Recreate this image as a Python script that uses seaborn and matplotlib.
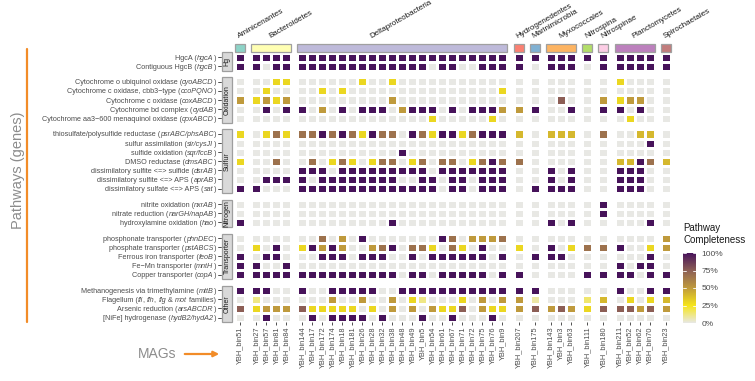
import numpy as np
import pandas as pd
import matplotlib
matplotlib.use("Agg")
import matplotlib.pyplot as plt
import seaborn as sns
from matplotlib.colors import LinearSegmentedColormap, Normalize
from matplotlib.patches import Rectangle, FancyArrowPatch
from matplotlib.lines import Line2D
from matplotlib.font_manager import FontProperties
import matplotlib.cm as cm

sns.set_theme(style="white")
plt.rcParams["font.family"] = ["Liberation Sans", "DejaVu Sans"]

# column groups (taxa) and their MAGs
taxa = ["Aminicenantes", "Bacteroidetes", "Deltaproteobacteria", "Hydrogenedentes",
        "Marinimicrobia", "Myxococcales", "Nitrospina", "Nitrospinae",
        "Planctomycetes", "Spirochaetales"]
taxa_colors = ["#8dd3c7", "#ffffb3", "#bebada", "#fb8072", "#80b1d3",
               "#fdb462", "#b3de69", "#fccde5", "#bc80bd", "#c27c7c"]
mags = [
    ["YBH_bin51"],
    ["YBH_bin27", "YBH_bin57", "YBH_bin81", "YBH_bin84"],
    ["YBH_bin144", "YBH_bin17", "YBH_bin172", "YBH_bin174", "YBH_bin18", "YBH_bin181",
     "YBH_bin26", "YBH_bin28", "YBH_bin32", "YBH_bin38", "YBH_bin48", "YBH_bin49",
     "YBH_bin5", "YBH_bin54", "YBH_bin61", "YBH_bin67", "YBH_bin71", "YBH_bin72",
     "YBH_bin75", "YBH_bin76", "YBH_bin9"],
    ["YBH_bin207"],
    ["YBH_bin175"],
    ["YBH_bin143", "YBH_bin3", "YBH_bin63"],
    ["YBH_bin111"],
    ["YBH_bin180"],
    ["YBH_bin211", "YBH_bin52", "YBH_bin62", "YBH_bin70"],
    ["YBH_bin23"],
]

# row groups (pathways); gene names between * are set in italics
pathway_groups = ["Hg", "Oxidation", "Sulfur", "Nitrogen", "Transporter", "Other"]
hg_labels = ["HgcA (*hgcA*)", "Contiguous HgcB (*hgcB*)"]
oxidation_labels = [
    "Cytochrome o ubiquinol oxidase (*cyoABCD*)",
    "Cytochrome c oxidase, cbb3−type (*ccoPQNO*)",
    "Cytochrome c oxidase (*coxABCD*)",
    "Cytochrome bd complex (*cydAB*)",
    "Cytochrome aa3−600 menaquinol oxidase (*qoxABCD*)",
]
sulfur_labels = [
    "thiosulfate/polysulfide reductase (*psrABC/phsABC*)",
    "sulfur assimilation (*sir/cysJI*)",
    "sulfide oxidation (*sqr/fccB*)",
    "DMSO reductase (*dmsABC*)",
    "dissimilatory sulfite <=> sulfide (*dsrAB*)",
    "dissimilatory sulfite <=> APS (*aprAB*)",
    "dissimilatory sulfate <=> APS (*sat*)",
]
nitrogen_labels = [
    "nitrite oxidation (*nxrAB*)",
    "nitrate reduction (*narGH/napAB*)",
    "hydroxylamine oxidation (*hao*)",
]
transporter_labels = [
    "phosphonate transporter (*phnDEC*)",
    "phosphate transporter (*pstABCS*)",
    "Ferrous iron transporter (*feoB*)",
    "Fe−Mn transporter (*mntH*)",
    "Copper transporter (*copA*)",
]
other_labels = [
    "Methanogenesis via trimethylamine (*mttB*)",
    "Flagellum (*fli*, *flh*, *flg* & *mot* families)",
    "Arsenic reduction (*arsABCDR*)",
    "[NiFe] hydrogenase (*hydB2/hydA2*)",
]

# pathway completeness (%), columns in the MAG order above
#            51 | 27  57  81  84 | Deltaproteobacteria (21)                                                          |207|175|143 3  63|111|180|211 52  62  70| 23
hg_values = [
    [100, 100, 100, 100, 100, 100, 100, 100, 100, 100, 100, 100, 100, 100, 100, 100, 100, 100, 100, 100, 100, 100, 100, 100, 100, 100, 100, 100, 100, 100, 100, 100, 100, 100, 100, 100, 100, 100],
    [100, 100, 0, 100, 100, 100, 100, 100, 100, 100, 100, 100, 100, 100, 100, 100, 100, 100, 0, 100, 100, 0, 0, 100, 100, 100, 100, 0, 100, 100, 100, 0, 100, 100, 100, 100, 100, 100],
]
oxidation_values = [
    [0, 0, 0, 30, 30, 0, 0, 0, 0, 0, 0, 30, 0, 0, 30, 0, 0, 0, 0, 0, 0, 0, 0, 0, 0, 0, 0, 0, 0, 0, 0, 0, 0, 30, 0, 0, 0, 0],
    [0, 0, 30, 0, 0, 0, 0, 30, 0, 30, 0, 0, 0, 0, 0, 0, 0, 0, 0, 0, 0, 0, 0, 0, 0, 30, 0, 0, 0, 0, 0, 0, 0, 0, 0, 0, 0, 0],
    [50, 30, 50, 30, 50, 0, 0, 0, 0, 0, 0, 0, 0, 0, 50, 0, 0, 0, 0, 0, 0, 0, 0, 0, 0, 0, 0, 0, 0, 75, 0, 0, 50, 30, 50, 50, 0, 0],
    [0, 0, 100, 0, 100, 100, 0, 50, 0, 100, 0, 100, 100, 100, 0, 50, 100, 100, 100, 0, 100, 0, 100, 100, 100, 50, 50, 100, 0, 0, 100, 0, 100, 100, 0, 100, 0, 0],
    [0, 0, 0, 0, 0, 0, 0, 0, 0, 0, 0, 0, 0, 0, 0, 0, 0, 0, 30, 0, 0, 0, 0, 0, 30, 0, 0, 0, 0, 0, 0, 0, 0, 0, 30, 0, 0, 0],
]
sulfur_values = [
    [30, 0, 30, 67, 30, 67, 67, 100, 67, 100, 67, 30, 100, 67, 67, 0, 100, 67, 30, 100, 100, 30, 67, 100, 100, 100, 40, 0, 40, 40, 40, 0, 67, 0, 0, 40, 40, 0],
    [0, 0, 0, 0, 0, 0, 0, 0, 0, 0, 0, 0, 0, 0, 0, 0, 0, 0, 0, 0, 0, 0, 0, 0, 0, 0, 0, 0, 0, 0, 0, 0, 0, 0, 0, 0, 100, 0],
    [0, 0, 0, 0, 0, 0, 0, 0, 0, 0, 0, 0, 0, 0, 0, 100, 0, 0, 0, 0, 0, 0, 0, 0, 0, 0, 0, 0, 0, 0, 0, 0, 0, 0, 0, 0, 0, 0],
    [30, 0, 0, 67, 0, 0, 67, 0, 30, 67, 30, 0, 30, 67, 67, 0, 30, 67, 0, 67, 67, 0, 30, 67, 100, 67, 67, 0, 0, 0, 0, 0, 0, 40, 40, 100, 67, 40],
    [0, 0, 0, 0, 0, 100, 100, 100, 0, 100, 100, 100, 100, 100, 100, 100, 100, 100, 0, 100, 100, 100, 100, 100, 100, 100, 0, 0, 100, 0, 100, 0, 0, 100, 100, 100, 0, 0],
    [0, 0, 100, 100, 100, 100, 0, 100, 100, 100, 100, 100, 100, 100, 100, 0, 0, 100, 100, 0, 100, 100, 0, 100, 100, 100, 0, 0, 100, 0, 100, 0, 0, 100, 100, 100, 0, 0],
    [100, 100, 0, 0, 0, 100, 100, 100, 100, 100, 100, 100, 100, 100, 100, 100, 100, 100, 100, 0, 100, 100, 0, 100, 100, 100, 0, 100, 100, 100, 100, 0, 0, 100, 100, 100, 0, 0],
]
nitrogen_values = [
    [0, 0, 0, 0, 0, 0, 0, 0, 0, 0, 0, 0, 0, 0, 0, 0, 0, 0, 0, 0, 0, 0, 0, 0, 0, 0, 0, 0, 0, 0, 0, 0, 100, 0, 0, 0, 0, 0],
    [0, 0, 0, 0, 0, 0, 0, 0, 0, 0, 0, 0, 0, 0, 0, 0, 0, 0, 0, 0, 0, 0, 0, 0, 0, 0, 0, 0, 0, 0, 0, 0, 100, 0, 0, 0, 0, 0],
    [100, 0, 0, 0, 0, 0, 0, 0, 0, 0, 0, 0, 0, 0, 100, 0, 0, 0, 0, 0, 0, 0, 0, 0, 0, 0, 0, 0, 100, 0, 100, 0, 0, 0, 0, 0, 100, 0],
]
transporter_values = [
    [0, 0, 0, 0, 0, 0, 0, 67, 0, 50, 0, 100, 0, 0, 0, 0, 0, 0, 0, 100, 67, 0, 50, 50, 50, 67, 0, 0, 0, 0, 0, 0, 0, 0, 0, 0, 0, 50],
    [0, 30, 0, 100, 0, 30, 100, 50, 100, 50, 0, 0, 50, 67, 100, 0, 67, 67, 30, 0, 67, 30, 0, 100, 0, 0, 30, 0, 100, 0, 30, 67, 67, 100, 0, 0, 30, 50],
    [100, 0, 100, 100, 0, 0, 0, 100, 100, 100, 0, 100, 100, 100, 0, 0, 100, 0, 100, 100, 100, 100, 100, 100, 0, 100, 0, 100, 100, 100, 0, 0, 0, 0, 0, 0, 100, 0],
    [100, 100, 0, 0, 100, 0, 0, 0, 0, 0, 0, 0, 0, 0, 0, 0, 0, 0, 0, 0, 0, 0, 0, 0, 0, 0, 0, 0, 0, 0, 0, 0, 0, 100, 0, 100, 100, 0],
    [100, 100, 100, 100, 100, 100, 100, 100, 100, 100, 100, 100, 100, 100, 100, 0, 100, 100, 0, 100, 100, 100, 100, 100, 0, 100, 100, 0, 0, 0, 0, 100, 100, 100, 100, 0, 100, 100],
]
other_values = [
    [100, 100, 100, 0, 0, 100, 0, 0, 100, 100, 100, 100, 100, 0, 0, 100, 100, 100, 100, 100, 100, 100, 100, 100, 100, 100, 100, 100, 0, 0, 0, 0, 0, 100, 0, 0, 100, 100],
    [0, 12, 0, 0, 0, 0, 0, 0, 50, 0, 0, 50, 0, 0, 50, 0, 30, 12, 0, 0, 0, 30, 0, 50, 0, 50, 50, 8, 0, 0, 0, 15, 40, 0, 30, 0, 30, 40],
    [75, 30, 50, 50, 50, 75, 30, 30, 30, 30, 30, 0, 30, 0, 50, 0, 50, 0, 50, 30, 30, 75, 0, 50, 30, 30, 50, 75, 50, 75, 50, 30, 75, 75, 75, 50, 75, 50],
    [0, 0, 100, 0, 0, 0, 100, 0, 100, 100, 100, 100, 0, 100, 0, 0, 0, 100, 0, 0, 100, 0, 0, 0, 100, 0, 0, 0, 0, 0, 0, 0, 0, 0, 0, 0, 0, 0],
]

row_labels = [hg_labels, oxidation_labels, sulfur_labels, nitrogen_labels,
              transporter_labels, other_labels]
row_values = [hg_values, oxidation_values, sulfur_values, nitrogen_values,
              transporter_values, other_values]

all_mags = [m for grp in mags for m in grp]

cmap = LinearSegmentedColormap.from_list(
    "complete", [(0.0, "#e8e8e4"), (0.25, "#f6e51a"), (0.5, "#bf9a3c"),
                 (0.75, "#8d5f55"), (1.0, "#47135a")])

W, H = 755, 381
fig = plt.figure(figsize=(W / 100, H / 100), dpi=100)
renderer = fig.canvas.get_renderer()


def rect(x, y, w, h):
    return [x / W, 1 - (y + h) / H, w / W, h / H]


cw, gw = 10.0, 6.2
rh, rg = 9.1, 6.6
x0, y0 = 235.0, 52.5
txt = "#4d4d4d"
lab_size = 5.2
fp_plain = FontProperties(family="Liberation Sans", size=lab_size)
fp_ital = FontProperties(family="Liberation Sans", style="italic", size=lab_size)


def text_width(s, fp):
    w1 = renderer.get_text_width_height_descent("|" + s + "|", fp, ismath=False)[0]
    w0 = renderer.get_text_width_height_descent("||", fp, ismath=False)[0]
    return w1 - w0


def row_label(label, x_right, y_mid):
    parts = label.split("*")
    props = [fp_ital if i % 2 else fp_plain for i in range(len(parts))]
    widths = [text_width(p, fp) if p else 0 for p, fp in zip(parts, props)]
    xl = x_right - sum(widths)
    for p, fp, w in zip(parts, props, widths):
        if p:
            fig.text(xl / W, 1 - y_mid / H, p, fontproperties=fp, ha="left",
                     va="center_baseline", color=txt)
        xl += w


col_x = []
x = x0
for grp in mags:
    col_x.append(x)
    x += len(grp) * cw + gw
row_y = []
y = y0
for lab in row_labels:
    row_y.append(y)
    y += len(lab) * rh + rg

for ri, (labels, vals) in enumerate(zip(row_labels, row_values)):
    df = pd.DataFrame(vals, index=labels, columns=all_mags)
    for ci, grp in enumerate(mags):
        sub = df[grp]
        ax = fig.add_axes(rect(col_x[ci], row_y[ri], len(grp) * cw, len(labels) * rh))
        sns.heatmap(sub, ax=ax, cmap=cmap, vmin=0, vmax=100, cbar=False,
                    linewidths=1.0, linecolor="white",
                    xticklabels=True, yticklabels=False)
        ax.set_xlabel("")
        ax.set_ylabel("")
        ax.set_yticks([])
        if ri == len(row_labels) - 1:
            ax.set_xticklabels(grp, rotation=90, fontsize=5.3, color=txt)
            ax.tick_params(axis="x", length=2, width=0.6, color="#333333", pad=1,
                           bottom=True)
        else:
            ax.set_xticks([])

    # left facet strip, row labels and their ticks
    h = len(labels) * rh
    fig.patches.append(Rectangle((222 / W, 1 - (row_y[ri] + h) / H), 10 / W, h / H,
                                 transform=fig.transFigure, facecolor="#d9d9d9",
                                 edgecolor="#9e9e9e", lw=0.9))
    fig.text(227 / W, 1 - (row_y[ri] + h / 2) / H, pathway_groups[ri], rotation=90,
             ha="center", va="center", fontsize=5.0, color="#1a1a1a")
    for k, lab in enumerate(labels):
        ym = row_y[ri] + (k + 0.5) * rh
        fig.lines.append(Line2D([218 / W, 221 / W], [1 - ym / H, 1 - ym / H],
                                transform=fig.transFigure, color="#333333", lw=0.6))
        row_label(lab, 216, ym)

# top facet strips
for ci, grp in enumerate(mags):
    wdt = len(grp) * cw
    fig.patches.append(Rectangle((col_x[ci] / W, 1 - 51.5 / H), wdt / W, 7.5 / H,
                                 transform=fig.transFigure, facecolor=taxa_colors[ci],
                                 edgecolor="#a0a0a0", lw=0.9))
    lx = col_x[ci] + wdt / 2
    if len(grp) > 10:
        lx -= 30
    fig.text(lx / W, 1 - 40 / H, taxa[ci], rotation=30, rotation_mode="anchor",
             ha="left", va="bottom", fontsize=5.8, color="#1a1a1a")

# axis titles
fig.text(18 / W, 1 - 170 / H, "Pathways (genes)", rotation=90, ha="center",
         va="center", fontsize=10.5, color="#8c8c8c")
fig.lines.append(Line2D([26.5 / W, 26.5 / W], [1 - 49 / H, 1 - 322 / H],
                        transform=fig.transFigure, color="#f28c28", lw=1.6))
fig.text(157 / W, 1 - 354 / H, "MAGs", ha="center", va="center", fontsize=10,
         color="#8c8c8c")
fig.patches.append(FancyArrowPatch((182 / W, 1 - 354 / H), (222 / W, 1 - 354 / H),
                                   transform=fig.transFigure, arrowstyle="-|>",
                                   mutation_scale=8, color="#f28c28", lw=1.6))

# legend
fig.text(683 / W, 1 - 223 / H, "Pathway\nCompleteness", ha="left", va="top",
         fontsize=7, color="#1a1a1a", linespacing=1.2)
cax = fig.add_axes(rect(683, 253, 13, 70))
sm = cm.ScalarMappable(norm=Normalize(0, 100), cmap=cmap)
cb = fig.colorbar(sm, cax=cax, ticks=[0, 25, 50, 75, 100])
cb.outline.set_visible(False)
cb.ax.set_yticklabels(["0%", "25%", "50%", "75%", "100%"], fontsize=6, color=txt)
cb.ax.tick_params(length=0, pad=4)
for t in [0, 25, 50, 75, 100]:
    cax.plot([0, 0.2], [t, t], color="white", lw=0.6, transform=cax.get_yaxis_transform())
    cax.plot([0.8, 1], [t, t], color="white", lw=0.6, transform=cax.get_yaxis_transform())

fig.savefig("out.png", dpi=100)
